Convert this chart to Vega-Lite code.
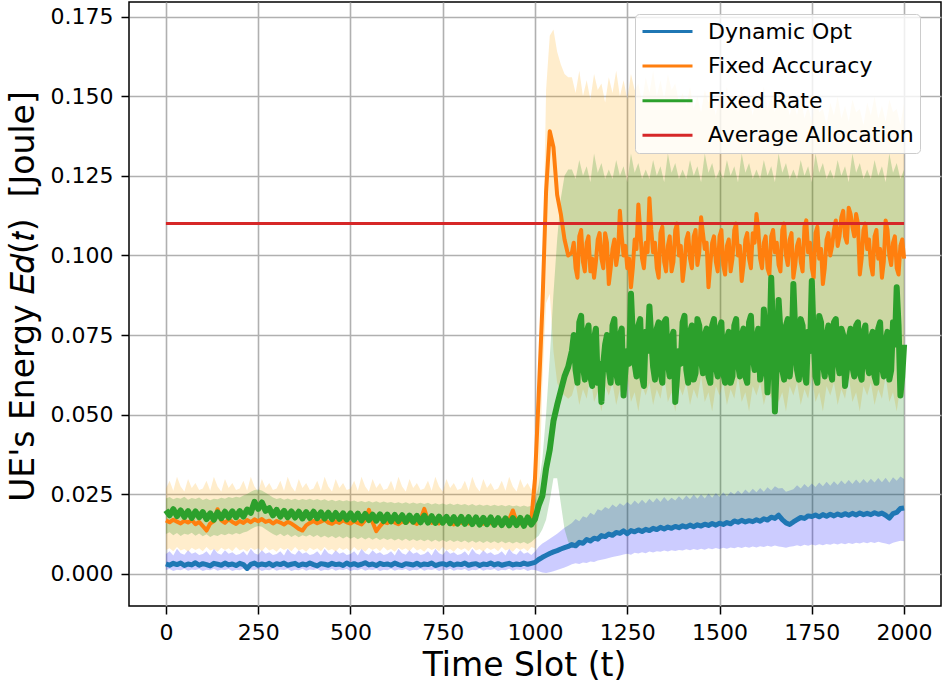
{
"$schema": "https://vega.github.io/schema/vega-lite/v6.json",
"width": 812, "height": 604,
"autosize": {"type": "none"},
"padding": {"left": 129, "top": 2, "right": 3, "bottom": 81},
"background": "white",
"data": {"values": [
{"t":0,"d":0.0031,"dl":0.0012,"dh":0.0062,"a":0.0168,"al":0.0075,"ah":0.0268,"r":0.0200,"rl":0.0125,"rh":0.0237},
{"t":10,"d":0.0027,"dl":0.0015,"dh":0.0071,"a":0.0162,"al":0.0080,"ah":0.0292,"r":0.0184,"rl":0.0131,"rh":0.0241},
{"t":20,"d":0.0033,"dl":0.0009,"dh":0.0058,"a":0.0170,"al":0.0071,"ah":0.0261,"r":0.0203,"rl":0.0121,"rh":0.0234},
{"t":30,"d":0.0029,"dl":0.0013,"dh":0.0079,"a":0.0164,"al":0.0084,"ah":0.0305,"r":0.0181,"rl":0.0128,"rh":0.0239},
{"t":40,"d":0.0034,"dl":0.0011,"dh":0.0065,"a":0.0158,"al":0.0073,"ah":0.0274,"r":0.0199,"rl":0.0119,"rh":0.0236},
{"t":50,"d":0.0026,"dl":0.0016,"dh":0.0060,"a":0.0167,"al":0.0078,"ah":0.0259,"r":0.0179,"rl":0.0126,"rh":0.0242},
{"t":60,"d":0.0031,"dl":0.0010,"dh":0.0074,"a":0.0161,"al":0.0069,"ah":0.0298,"r":0.0197,"rl":0.0123,"rh":0.0233},
{"t":70,"d":0.0028,"dl":0.0014,"dh":0.0063,"a":0.0169,"al":0.0082,"ah":0.0270,"r":0.0176,"rl":0.0129,"rh":0.0238},
{"t":80,"d":0.0035,"dl":0.0012,"dh":0.0068,"a":0.0156,"al":0.0075,"ah":0.0285,"r":0.0196,"rl":0.0120,"rh":0.0235},
{"t":90,"d":0.0027,"dl":0.0015,"dh":0.0059,"a":0.0163,"al":0.0080,"ah":0.0263,"r":0.0178,"rl":0.0127,"rh":0.0240},
{"t":100,"d":0.0032,"dl":0.0009,"dh":0.0062,"a":0.0150,"al":0.0071,"ah":0.0268,"r":0.0194,"rl":0.0118,"rh":0.0232},
{"t":110,"d":0.0029,"dl":0.0013,"dh":0.0071,"a":0.0136,"al":0.0084,"ah":0.0292,"r":0.0172,"rl":0.0124,"rh":0.0237},
{"t":120,"d":0.0025,"dl":0.0011,"dh":0.0058,"a":0.0158,"al":0.0073,"ah":0.0261,"r":0.0190,"rl":0.0116,"rh":0.0231},
{"t":130,"d":0.0033,"dl":0.0016,"dh":0.0079,"a":0.0166,"al":0.0078,"ah":0.0305,"r":0.0170,"rl":0.0122,"rh":0.0236},
{"t":140,"d":0.0030,"dl":0.0010,"dh":0.0065,"a":0.0203,"al":0.0069,"ah":0.0274,"r":0.0193,"rl":0.0119,"rh":0.0234},
{"t":150,"d":0.0027,"dl":0.0014,"dh":0.0060,"a":0.0168,"al":0.0082,"ah":0.0259,"r":0.0175,"rl":0.0125,"rh":0.0239},
{"t":160,"d":0.0034,"dl":0.0012,"dh":0.0074,"a":0.0160,"al":0.0075,"ah":0.0298,"r":0.0195,"rl":0.0121,"rh":0.0236},
{"t":170,"d":0.0028,"dl":0.0015,"dh":0.0063,"a":0.0171,"al":0.0080,"ah":0.0270,"r":0.0177,"rl":0.0127,"rh":0.0241},
{"t":180,"d":0.0031,"dl":0.0009,"dh":0.0068,"a":0.0163,"al":0.0071,"ah":0.0285,"r":0.0196,"rl":0.0123,"rh":0.0238},
{"t":190,"d":0.0026,"dl":0.0013,"dh":0.0059,"a":0.0157,"al":0.0084,"ah":0.0263,"r":0.0178,"rl":0.0128,"rh":0.0242},
{"t":200,"d":0.0033,"dl":0.0011,"dh":0.0062,"a":0.0166,"al":0.0073,"ah":0.0268,"r":0.0197,"rl":0.0124,"rh":0.0240},
{"t":210,"d":0.0029,"dl":0.0016,"dh":0.0071,"a":0.0160,"al":0.0078,"ah":0.0292,"r":0.0180,"rl":0.0130,"rh":0.0246},
{"t":220,"d":0.0017,"dl":0.0008,"dh":0.0058,"a":0.0169,"al":0.0069,"ah":0.0261,"r":0.0202,"rl":0.0133,"rh":0.0251},
{"t":230,"d":0.0030,"dl":0.0014,"dh":0.0079,"a":0.0162,"al":0.0082,"ah":0.0305,"r":0.0192,"rl":0.0140,"rh":0.0258},
{"t":240,"d":0.0034,"dl":0.0012,"dh":0.0065,"a":0.0171,"al":0.0075,"ah":0.0274,"r":0.0226,"rl":0.0146,"rh":0.0263},
{"t":250,"d":0.0027,"dl":0.0015,"dh":0.0060,"a":0.0165,"al":0.0080,"ah":0.0259,"r":0.0204,"rl":0.0150,"rh":0.0265},
{"t":260,"d":0.0031,"dl":0.0009,"dh":0.0074,"a":0.0172,"al":0.0071,"ah":0.0298,"r":0.0224,"rl":0.0148,"rh":0.0262},
{"t":270,"d":0.0028,"dl":0.0013,"dh":0.0063,"a":0.0163,"al":0.0084,"ah":0.0270,"r":0.0198,"rl":0.0140,"rh":0.0255},
{"t":280,"d":0.0033,"dl":0.0011,"dh":0.0068,"a":0.0167,"al":0.0073,"ah":0.0285,"r":0.0206,"rl":0.0132,"rh":0.0248},
{"t":290,"d":0.0026,"dl":0.0016,"dh":0.0059,"a":0.0158,"al":0.0078,"ah":0.0263,"r":0.0184,"rl":0.0125,"rh":0.0240},
{"t":300,"d":0.0032,"dl":0.0010,"dh":0.0062,"a":0.0166,"al":0.0069,"ah":0.0268,"r":0.0201,"rl":0.0120,"rh":0.0235},
{"t":310,"d":0.0029,"dl":0.0014,"dh":0.0071,"a":0.0161,"al":0.0082,"ah":0.0292,"r":0.0180,"rl":0.0126,"rh":0.0238},
{"t":320,"d":0.0034,"dl":0.0012,"dh":0.0058,"a":0.0155,"al":0.0075,"ah":0.0261,"r":0.0198,"rl":0.0118,"rh":0.0233},
{"t":330,"d":0.0027,"dl":0.0015,"dh":0.0079,"a":0.0163,"al":0.0080,"ah":0.0305,"r":0.0178,"rl":0.0124,"rh":0.0237},
{"t":340,"d":0.0030,"dl":0.0009,"dh":0.0065,"a":0.0158,"al":0.0071,"ah":0.0274,"r":0.0196,"rl":0.0116,"rh":0.0232},
{"t":350,"d":0.0033,"dl":0.0013,"dh":0.0060,"a":0.0150,"al":0.0084,"ah":0.0259,"r":0.0177,"rl":0.0122,"rh":0.0236},
{"t":360,"d":0.0026,"dl":0.0011,"dh":0.0074,"a":0.0141,"al":0.0073,"ah":0.0298,"r":0.0195,"rl":0.0115,"rh":0.0231},
{"t":370,"d":0.0031,"dl":0.0016,"dh":0.0063,"a":0.0136,"al":0.0078,"ah":0.0270,"r":0.0174,"rl":0.0121,"rh":0.0235},
{"t":380,"d":0.0028,"dl":0.0010,"dh":0.0068,"a":0.0152,"al":0.0069,"ah":0.0285,"r":0.0194,"rl":0.0117,"rh":0.0232},
{"t":390,"d":0.0034,"dl":0.0014,"dh":0.0059,"a":0.0160,"al":0.0082,"ah":0.0263,"r":0.0176,"rl":0.0123,"rh":0.0236},
{"t":400,"d":0.0029,"dl":0.0012,"dh":0.0062,"a":0.0166,"al":0.0075,"ah":0.0268,"r":0.0195,"rl":0.0116,"rh":0.0231},
{"t":410,"d":0.0025,"dl":0.0015,"dh":0.0071,"a":0.0159,"al":0.0080,"ah":0.0292,"r":0.0175,"rl":0.0122,"rh":0.0235},
{"t":420,"d":0.0032,"dl":0.0009,"dh":0.0058,"a":0.0164,"al":0.0071,"ah":0.0261,"r":0.0193,"rl":0.0114,"rh":0.0230},
{"t":430,"d":0.0030,"dl":0.0013,"dh":0.0079,"a":0.0170,"al":0.0084,"ah":0.0305,"r":0.0174,"rl":0.0120,"rh":0.0234},
{"t":440,"d":0.0027,"dl":0.0011,"dh":0.0065,"a":0.0161,"al":0.0073,"ah":0.0274,"r":0.0192,"rl":0.0113,"rh":0.0229},
{"t":450,"d":0.0033,"dl":0.0016,"dh":0.0060,"a":0.0157,"al":0.0078,"ah":0.0259,"r":0.0172,"rl":0.0119,"rh":0.0233},
{"t":460,"d":0.0029,"dl":0.0010,"dh":0.0074,"a":0.0165,"al":0.0069,"ah":0.0298,"r":0.0191,"rl":0.0112,"rh":0.0228},
{"t":470,"d":0.0031,"dl":0.0014,"dh":0.0063,"a":0.0160,"al":0.0082,"ah":0.0270,"r":0.0173,"rl":0.0118,"rh":0.0232},
{"t":480,"d":0.0026,"dl":0.0012,"dh":0.0068,"a":0.0168,"al":0.0075,"ah":0.0285,"r":0.0190,"rl":0.0111,"rh":0.0228},
{"t":490,"d":0.0034,"dl":0.0015,"dh":0.0059,"a":0.0162,"al":0.0080,"ah":0.0263,"r":0.0171,"rl":0.0117,"rh":0.0231},
{"t":500,"d":0.0028,"dl":0.0009,"dh":0.0062,"a":0.0158,"al":0.0071,"ah":0.0268,"r":0.0190,"rl":0.0110,"rh":0.0227},
{"t":510,"d":0.0032,"dl":0.0013,"dh":0.0071,"a":0.0166,"al":0.0084,"ah":0.0292,"r":0.0170,"rl":0.0116,"rh":0.0230},
{"t":520,"d":0.0027,"dl":0.0011,"dh":0.0058,"a":0.0160,"al":0.0073,"ah":0.0261,"r":0.0189,"rl":0.0109,"rh":0.0226},
{"t":530,"d":0.0030,"dl":0.0016,"dh":0.0079,"a":0.0155,"al":0.0078,"ah":0.0305,"r":0.0168,"rl":0.0115,"rh":0.0229},
{"t":540,"d":0.0035,"dl":0.0010,"dh":0.0065,"a":0.0168,"al":0.0069,"ah":0.0274,"r":0.0188,"rl":0.0108,"rh":0.0225},
{"t":550,"d":0.0028,"dl":0.0014,"dh":0.0060,"a":0.0201,"al":0.0082,"ah":0.0259,"r":0.0169,"rl":0.0114,"rh":0.0229},
{"t":560,"d":0.0031,"dl":0.0012,"dh":0.0074,"a":0.0162,"al":0.0075,"ah":0.0298,"r":0.0186,"rl":0.0107,"rh":0.0224},
{"t":570,"d":0.0026,"dl":0.0015,"dh":0.0063,"a":0.0134,"al":0.0080,"ah":0.0270,"r":0.0167,"rl":0.0113,"rh":0.0228},
{"t":580,"d":0.0033,"dl":0.0009,"dh":0.0068,"a":0.0150,"al":0.0071,"ah":0.0285,"r":0.0187,"rl":0.0106,"rh":0.0223},
{"t":590,"d":0.0029,"dl":0.0013,"dh":0.0059,"a":0.0163,"al":0.0084,"ah":0.0263,"r":0.0166,"rl":0.0112,"rh":0.0227},
{"t":600,"d":0.0031,"dl":0.0011,"dh":0.0062,"a":0.0159,"al":0.0073,"ah":0.0268,"r":0.0186,"rl":0.0106,"rh":0.0223},
{"t":610,"d":0.0027,"dl":0.0016,"dh":0.0071,"a":0.0167,"al":0.0078,"ah":0.0292,"r":0.0165,"rl":0.0111,"rh":0.0226},
{"t":620,"d":0.0034,"dl":0.0010,"dh":0.0058,"a":0.0161,"al":0.0069,"ah":0.0261,"r":0.0185,"rl":0.0105,"rh":0.0222},
{"t":630,"d":0.0029,"dl":0.0014,"dh":0.0079,"a":0.0156,"al":0.0082,"ah":0.0305,"r":0.0166,"rl":0.0110,"rh":0.0225},
{"t":640,"d":0.0026,"dl":0.0012,"dh":0.0065,"a":0.0165,"al":0.0075,"ah":0.0274,"r":0.0184,"rl":0.0104,"rh":0.0221},
{"t":650,"d":0.0032,"dl":0.0015,"dh":0.0060,"a":0.0160,"al":0.0080,"ah":0.0259,"r":0.0163,"rl":0.0110,"rh":0.0225},
{"t":660,"d":0.0030,"dl":0.0009,"dh":0.0074,"a":0.0168,"al":0.0071,"ah":0.0298,"r":0.0183,"rl":0.0103,"rh":0.0220},
{"t":670,"d":0.0028,"dl":0.0013,"dh":0.0063,"a":0.0162,"al":0.0084,"ah":0.0270,"r":0.0164,"rl":0.0109,"rh":0.0224},
{"t":680,"d":0.0033,"dl":0.0011,"dh":0.0068,"a":0.0157,"al":0.0073,"ah":0.0285,"r":0.0182,"rl":0.0103,"rh":0.0220},
{"t":690,"d":0.0027,"dl":0.0016,"dh":0.0059,"a":0.0171,"al":0.0078,"ah":0.0263,"r":0.0162,"rl":0.0108,"rh":0.0223},
{"t":700,"d":0.0031,"dl":0.0010,"dh":0.0062,"a":0.0204,"al":0.0069,"ah":0.0268,"r":0.0183,"rl":0.0102,"rh":0.0219},
{"t":710,"d":0.0029,"dl":0.0014,"dh":0.0071,"a":0.0168,"al":0.0082,"ah":0.0292,"r":0.0161,"rl":0.0108,"rh":0.0223},
{"t":720,"d":0.0034,"dl":0.0012,"dh":0.0058,"a":0.0160,"al":0.0075,"ah":0.0261,"r":0.0181,"rl":0.0101,"rh":0.0218},
{"t":730,"d":0.0026,"dl":0.0015,"dh":0.0079,"a":0.0165,"al":0.0080,"ah":0.0305,"r":0.0160,"rl":0.0107,"rh":0.0222},
{"t":740,"d":0.0030,"dl":0.0009,"dh":0.0065,"a":0.0158,"al":0.0071,"ah":0.0274,"r":0.0180,"rl":0.0101,"rh":0.0218},
{"t":750,"d":0.0032,"dl":0.0013,"dh":0.0060,"a":0.0163,"al":0.0084,"ah":0.0259,"r":0.0161,"rl":0.0106,"rh":0.0221},
{"t":760,"d":0.0028,"dl":0.0011,"dh":0.0074,"a":0.0169,"al":0.0073,"ah":0.0298,"r":0.0179,"rl":0.0100,"rh":0.0217},
{"t":770,"d":0.0033,"dl":0.0016,"dh":0.0063,"a":0.0161,"al":0.0078,"ah":0.0270,"r":0.0159,"rl":0.0106,"rh":0.0221},
{"t":780,"d":0.0027,"dl":0.0010,"dh":0.0068,"a":0.0155,"al":0.0069,"ah":0.0285,"r":0.0178,"rl":0.0100,"rh":0.0216},
{"t":790,"d":0.0031,"dl":0.0014,"dh":0.0059,"a":0.0164,"al":0.0082,"ah":0.0263,"r":0.0158,"rl":0.0105,"rh":0.0220},
{"t":800,"d":0.0029,"dl":0.0012,"dh":0.0062,"a":0.0160,"al":0.0075,"ah":0.0268,"r":0.0179,"rl":0.0099,"rh":0.0216},
{"t":810,"d":0.0034,"dl":0.0015,"dh":0.0071,"a":0.0167,"al":0.0080,"ah":0.0292,"r":0.0157,"rl":0.0105,"rh":0.0219},
{"t":820,"d":0.0027,"dl":0.0009,"dh":0.0058,"a":0.0158,"al":0.0071,"ah":0.0261,"r":0.0178,"rl":0.0098,"rh":0.0215},
{"t":830,"d":0.0030,"dl":0.0013,"dh":0.0079,"a":0.0163,"al":0.0084,"ah":0.0305,"r":0.0156,"rl":0.0104,"rh":0.0219},
{"t":840,"d":0.0032,"dl":0.0011,"dh":0.0065,"a":0.0170,"al":0.0073,"ah":0.0274,"r":0.0177,"rl":0.0098,"rh":0.0214},
{"t":850,"d":0.0026,"dl":0.0016,"dh":0.0060,"a":0.0162,"al":0.0078,"ah":0.0259,"r":0.0155,"rl":0.0103,"rh":0.0218},
{"t":860,"d":0.0031,"dl":0.0010,"dh":0.0074,"a":0.0157,"al":0.0069,"ah":0.0298,"r":0.0176,"rl":0.0097,"rh":0.0214},
{"t":870,"d":0.0029,"dl":0.0014,"dh":0.0063,"a":0.0165,"al":0.0082,"ah":0.0270,"r":0.0156,"rl":0.0103,"rh":0.0217},
{"t":880,"d":0.0034,"dl":0.0012,"dh":0.0068,"a":0.0159,"al":0.0075,"ah":0.0285,"r":0.0177,"rl":0.0097,"rh":0.0213},
{"t":890,"d":0.0028,"dl":0.0015,"dh":0.0059,"a":0.0166,"al":0.0080,"ah":0.0263,"r":0.0154,"rl":0.0102,"rh":0.0217},
{"t":900,"d":0.0032,"dl":0.0009,"dh":0.0062,"a":0.0161,"al":0.0071,"ah":0.0268,"r":0.0175,"rl":0.0096,"rh":0.0213},
{"t":910,"d":0.0027,"dl":0.0013,"dh":0.0071,"a":0.0156,"al":0.0084,"ah":0.0292,"r":0.0153,"rl":0.0102,"rh":0.0216},
{"t":920,"d":0.0030,"dl":0.0011,"dh":0.0058,"a":0.0164,"al":0.0073,"ah":0.0261,"r":0.0174,"rl":0.0096,"rh":0.0212},
{"t":930,"d":0.0033,"dl":0.0016,"dh":0.0079,"a":0.0170,"al":0.0078,"ah":0.0305,"r":0.0152,"rl":0.0101,"rh":0.0216},
{"t":940,"d":0.0028,"dl":0.0010,"dh":0.0065,"a":0.0199,"al":0.0069,"ah":0.0274,"r":0.0175,"rl":0.0095,"rh":0.0212},
{"t":950,"d":0.0031,"dl":0.0014,"dh":0.0060,"a":0.0163,"al":0.0082,"ah":0.0259,"r":0.0153,"rl":0.0101,"rh":0.0215},
{"t":960,"d":0.0029,"dl":0.0012,"dh":0.0074,"a":0.0158,"al":0.0075,"ah":0.0298,"r":0.0176,"rl":0.0095,"rh":0.0211},
{"t":970,"d":0.0034,"dl":0.0015,"dh":0.0063,"a":0.0166,"al":0.0080,"ah":0.0270,"r":0.0151,"rl":0.0100,"rh":0.0215},
{"t":980,"d":0.0030,"dl":0.0009,"dh":0.0068,"a":0.0160,"al":0.0071,"ah":0.0285,"r":0.0177,"rl":0.0094,"rh":0.0211},
{"t":990,"d":0.0033,"dl":0.0013,"dh":0.0059,"a":0.0168,"al":0.0084,"ah":0.0263,"r":0.0155,"rl":0.0100,"rh":0.0214},
{"t":1000,"d":0.0036,"dl":0.0012,"dh":0.0070,"a":0.0300,"al":0.0080,"ah":0.0310,"r":0.0172,"rl":0.0110,"rh":0.0230},
{"t":1010,"d":0.0045,"dl":0.0008,"dh":0.0085,"a":0.0560,"al":0.0200,"ah":0.0570,"r":0.0215,"rl":0.0120,"rh":0.0280},
{"t":1020,"d":0.0052,"dl":0.0004,"dh":0.0095,"a":0.0840,"al":0.0600,"ah":0.0870,"r":0.0245,"rl":0.0140,"rh":0.0360},
{"t":1030,"d":0.0058,"dl":0.0003,"dh":0.0102,"a":0.1200,"al":0.0850,"ah":0.1520,"r":0.0330,"rl":0.0170,"rh":0.0500},
{"t":1040,"d":0.0064,"dl":0.0005,"dh":0.0110,"a":0.1390,"al":0.0880,"ah":0.1690,"r":0.0390,"rl":0.0230,"rh":0.0680},
{"t":1050,"d":0.0069,"dl":0.0008,"dh":0.0118,"a":0.1340,"al":0.0700,"ah":0.1710,"r":0.0480,"rl":0.0300,"rh":0.0880},
{"t":1060,"d":0.0073,"dl":0.0012,"dh":0.0126,"a":0.1190,"al":0.0600,"ah":0.1640,"r":0.0530,"rl":0.0300,"rh":0.1050},
{"t":1070,"d":0.0078,"dl":0.0016,"dh":0.0135,"a":0.1130,"al":0.0570,"ah":0.1600,"r":0.0575,"rl":0.0220,"rh":0.1180},
{"t":1080,"d":0.0082,"dl":0.0020,"dh":0.0145,"a":0.1050,"al":0.0560,"ah":0.1570,"r":0.0620,"rl":0.0140,"rh":0.1250},
{"t":1090,"d":0.0086,"dl":0.0025,"dh":0.0152,"a":0.1000,"al":0.0550,"ah":0.1560,"r":0.0650,"rl":0.0100,"rh":0.1270},
{"t":1100,"d":0.0092,"dl":0.0030,"dh":0.0160,"a":0.1010,"al":0.056,"ah":0.156,"r":0.0700,"rl":0.0090,"rh":0.127},
{"t":1110,"d":0.0088,"dl":0.0033,"dh":0.0172,"a":0.0960,"al":0.060,"ah":0.151,"r":0.0640,"rl":0.0092,"rh":0.124},
{"t":1120,"d":0.0099,"dl":0.0031,"dh":0.0165,"a":0.1060,"al":0.053,"ah":0.158,"r":0.0790,"rl":0.0094,"rh":0.130},
{"t":1130,"d":0.0096,"dl":0.0036,"dh":0.0181,"a":0.0980,"al":0.058,"ah":0.150,"r":0.0650,"rl":0.0097,"rh":0.125},
{"t":1140,"d":0.0108,"dl":0.0034,"dh":0.0176,"a":0.1040,"al":0.055,"ah":0.155,"r":0.0760,"rl":0.0101,"rh":0.128},
{"t":1150,"d":0.0103,"dl":0.0039,"dh":0.0192,"a":0.0950,"al":0.062,"ah":0.149,"r":0.0620,"rl":0.0103,"rh":0.123},
{"t":1160,"d":0.0112,"dl":0.0037,"dh":0.0185,"a":0.0930,"al":0.054,"ah":0.157,"r":0.0740,"rl":0.0106,"rh":0.132},
{"t":1170,"d":0.0109,"dl":0.0042,"dh":0.0203,"a":0.1050,"al":0.057,"ah":0.152,"r":0.0600,"rl":0.0108,"rh":0.126},
{"t":1180,"d":0.0120,"dl":0.0044,"dh":0.0198,"a":0.0990,"al":0.051,"ah":0.154,"r":0.0540,"rl":0.0112,"rh":0.129},
{"t":1190,"d":0.0117,"dl":0.0047,"dh":0.0210,"a":0.1070,"al":0.059,"ah":0.148,"r":0.0720,"rl":0.0114,"rh":0.124},
{"t":1200,"d":0.0125,"dl":0.0050,"dh":0.0204,"a":0.0910,"al":0.056,"ah":0.156,"r":0.0640,"rl":0.0118,"rh":0.127},
{"t":1210,"d":0.0121,"dl":0.0053,"dh":0.0218,"a":0.1020,"al":0.060,"ah":0.151,"r":0.0780,"rl":0.0120,"rh":0.124},
{"t":1220,"d":0.0130,"dl":0.0055,"dh":0.0209,"a":0.0970,"al":0.053,"ah":0.158,"r":0.0630,"rl":0.0123,"rh":0.130},
{"t":1230,"d":0.0127,"dl":0.0058,"dh":0.0222,"a":0.1140,"al":0.058,"ah":0.150,"r":0.0750,"rl":0.0125,"rh":0.125},
{"t":1240,"d":0.0135,"dl":0.0061,"dh":0.0214,"a":0.1000,"al":0.055,"ah":0.155,"r":0.0560,"rl":0.0128,"rh":0.128},
{"t":1250,"d":0.0126,"dl":0.0063,"dh":0.0226,"a":0.0960,"al":0.062,"ah":0.149,"r":0.0700,"rl":0.0126,"rh":0.123},
{"t":1260,"d":0.0136,"dl":0.0060,"dh":0.0216,"a":0.0900,"al":0.054,"ah":0.157,"r":0.0880,"rl":0.0130,"rh":0.132},
{"t":1270,"d":0.0132,"dl":0.0066,"dh":0.0230,"a":0.1050,"al":0.057,"ah":0.152,"r":0.0660,"rl":0.0131,"rh":0.126},
{"t":1280,"d":0.0138,"dl":0.0064,"dh":0.0219,"a":0.1160,"al":0.051,"ah":0.154,"r":0.0780,"rl":0.0133,"rh":0.129},
{"t":1290,"d":0.0133,"dl":0.0068,"dh":0.0233,"a":0.0990,"al":0.059,"ah":0.148,"r":0.0620,"rl":0.0132,"rh":0.124},
{"t":1300,"d":0.0140,"dl":0.0065,"dh":0.0221,"a":0.1040,"al":0.056,"ah":0.156,"r":0.0760,"rl":0.0135,"rh":0.127},
{"t":1310,"d":0.0136,"dl":0.0070,"dh":0.0236,"a":0.1180,"al":0.060,"ah":0.151,"r":0.0840,"rl":0.0135,"rh":0.124},
{"t":1320,"d":0.0143,"dl":0.0067,"dh":0.0224,"a":0.1010,"al":0.053,"ah":0.158,"r":0.0650,"rl":0.0138,"rh":0.130},
{"t":1330,"d":0.0139,"dl":0.0071,"dh":0.0238,"a":0.0960,"al":0.058,"ah":0.150,"r":0.0770,"rl":0.0138,"rh":0.125},
{"t":1340,"d":0.0146,"dl":0.0069,"dh":0.0226,"a":0.1070,"al":0.055,"ah":0.155,"r":0.0630,"rl":0.0141,"rh":0.128},
{"t":1350,"d":0.0141,"dl":0.0073,"dh":0.0241,"a":0.0980,"al":0.062,"ah":0.149,"r":0.0790,"rl":0.0140,"rh":0.123},
{"t":1360,"d":0.0147,"dl":0.0070,"dh":0.0228,"a":0.1030,"al":0.054,"ah":0.157,"r":0.0660,"rl":0.0143,"rh":0.132},
{"t":1370,"d":0.0143,"dl":0.0074,"dh":0.0239,"a":0.0950,"al":0.057,"ah":0.152,"r":0.0740,"rl":0.0142,"rh":0.126},
{"t":1380,"d":0.0149,"dl":0.0072,"dh":0.0230,"a":0.1080,"al":0.051,"ah":0.154,"r":0.0540,"rl":0.0145,"rh":0.129},
{"t":1390,"d":0.0145,"dl":0.0075,"dh":0.0244,"a":0.1000,"al":0.059,"ah":0.148,"r":0.0700,"rl":0.0144,"rh":0.124},
{"t":1400,"d":0.0151,"dl":0.0073,"dh":0.0232,"a":0.0920,"al":0.056,"ah":0.151,"r":0.0790,"rl":0.0147,"rh":0.127},
{"t":1410,"d":0.0147,"dl":0.0077,"dh":0.0246,"a":0.1050,"al":0.060,"ah":0.147,"r":0.0640,"rl":0.0146,"rh":0.124},
{"t":1420,"d":0.0153,"dl":0.0074,"dh":0.0234,"a":0.0990,"al":0.053,"ah":0.153,"r":0.0760,"rl":0.0149,"rh":0.130},
{"t":1430,"d":0.0148,"dl":0.0078,"dh":0.0249,"a":0.1060,"al":0.058,"ah":0.146,"r":0.0610,"rl":0.0147,"rh":0.125},
{"t":1440,"d":0.0154,"dl":0.0075,"dh":0.0236,"a":0.0970,"al":0.055,"ah":0.150,"r":0.0800,"rl":0.0150,"rh":0.128},
{"t":1450,"d":0.0150,"dl":0.0079,"dh":0.0250,"a":0.1120,"al":0.062,"ah":0.145,"r":0.0670,"rl":0.0149,"rh":0.123},
{"t":1460,"d":0.0156,"dl":0.0076,"dh":0.0237,"a":0.1020,"al":0.054,"ah":0.152,"r":0.0750,"rl":0.0152,"rh":0.132},
{"t":1470,"d":0.0152,"dl":0.0080,"dh":0.0252,"a":0.0900,"al":0.057,"ah":0.148,"r":0.0620,"rl":0.0151,"rh":0.126},
{"t":1480,"d":0.0158,"dl":0.0077,"dh":0.0239,"a":0.1040,"al":0.051,"ah":0.149,"r":0.0780,"rl":0.0154,"rh":0.129},
{"t":1490,"d":0.0153,"dl":0.0081,"dh":0.0254,"a":0.0980,"al":0.059,"ah":0.144,"r":0.0650,"rl":0.0152,"rh":0.124},
{"t":1500,"d":0.0159,"dl":0.0078,"dh":0.0241,"a":0.1060,"al":0.056,"ah":0.151,"r":0.0770,"rl":0.0155,"rh":0.127},
{"t":1510,"d":0.0155,"dl":0.0082,"dh":0.0256,"a":0.0970,"al":0.060,"ah":0.147,"r":0.0630,"rl":0.0154,"rh":0.124},
{"t":1520,"d":0.0161,"dl":0.0079,"dh":0.0243,"a":0.1030,"al":0.053,"ah":0.153,"r":0.0740,"rl":0.0157,"rh":0.130},
{"t":1530,"d":0.0157,"dl":0.0083,"dh":0.0258,"a":0.0950,"al":0.058,"ah":0.146,"r":0.0600,"rl":0.0156,"rh":0.125},
{"t":1540,"d":0.0166,"dl":0.0080,"dh":0.0249,"a":0.1080,"al":0.055,"ah":0.150,"r":0.0780,"rl":0.0160,"rh":0.128},
{"t":1550,"d":0.0162,"dl":0.0084,"dh":0.0262,"a":0.1000,"al":0.062,"ah":0.145,"r":0.0660,"rl":0.0160,"rh":0.123},
{"t":1560,"d":0.0168,"dl":0.0081,"dh":0.0251,"a":0.0920,"al":0.054,"ah":0.152,"r":0.0750,"rl":0.0163,"rh":0.132},
{"t":1570,"d":0.0163,"dl":0.0085,"dh":0.0265,"a":0.1050,"al":0.057,"ah":0.148,"r":0.0620,"rl":0.0162,"rh":0.126},
{"t":1580,"d":0.0167,"dl":0.0082,"dh":0.0254,"a":0.0990,"al":0.051,"ah":0.149,"r":0.0790,"rl":0.0164,"rh":0.129},
{"t":1590,"d":0.0164,"dl":0.0086,"dh":0.0267,"a":0.1070,"al":0.059,"ah":0.144,"r":0.0680,"rl":0.0163,"rh":0.124},
{"t":1600,"d":0.0170,"dl":0.0083,"dh":0.0256,"a":0.1130,"al":0.056,"ah":0.151,"r":0.0740,"rl":0.0166,"rh":0.127},
{"t":1610,"d":0.0165,"dl":0.0087,"dh":0.0270,"a":0.0990,"al":0.060,"ah":0.147,"r":0.0610,"rl":0.0165,"rh":0.124},
{"t":1620,"d":0.0173,"dl":0.0084,"dh":0.0258,"a":0.1040,"al":0.053,"ah":0.153,"r":0.0830,"rl":0.0168,"rh":0.130},
{"t":1630,"d":0.0169,"dl":0.0088,"dh":0.0272,"a":0.0960,"al":0.058,"ah":0.146,"r":0.0570,"rl":0.0168,"rh":0.125},
{"t":1640,"d":0.0178,"dl":0.0085,"dh":0.0262,"a":0.1060,"al":0.055,"ah":0.150,"r":0.0930,"rl":0.0172,"rh":0.128},
{"t":1650,"d":0.0174,"dl":0.0089,"dh":0.0275,"a":0.1010,"al":0.062,"ah":0.145,"r":0.0510,"rl":0.0172,"rh":0.123},
{"t":1660,"d":0.0184,"dl":0.0086,"dh":0.0268,"a":0.0970,"al":0.054,"ah":0.152,"r":0.0860,"rl":0.0176,"rh":0.132},
{"t":1670,"d":0.0170,"dl":0.0084,"dh":0.0270,"a":0.1080,"al":0.057,"ah":0.148,"r":0.0640,"rl":0.0168,"rh":0.126},
{"t":1680,"d":0.0160,"dl":0.0082,"dh":0.0258,"a":0.1000,"al":0.051,"ah":0.149,"r":0.0780,"rl":0.0160,"rh":0.129},
{"t":1690,"d":0.0155,"dl":0.0085,"dh":0.0262,"a":0.1050,"al":0.059,"ah":0.144,"r":0.0620,"rl":0.0156,"rh":0.124},
{"t":1700,"d":0.0163,"dl":0.0087,"dh":0.0266,"a":0.0930,"al":0.056,"ah":0.148,"r":0.0910,"rl":0.0160,"rh":0.127},
{"t":1710,"d":0.0170,"dl":0.0090,"dh":0.0278,"a":0.1030,"al":0.060,"ah":0.144,"r":0.0640,"rl":0.0166,"rh":0.124},
{"t":1720,"d":0.0177,"dl":0.0087,"dh":0.0268,"a":0.0980,"al":0.053,"ah":0.150,"r":0.0800,"rl":0.0172,"rh":0.130},
{"t":1730,"d":0.0174,"dl":0.0091,"dh":0.0282,"a":0.1090,"al":0.058,"ah":0.143,"r":0.0630,"rl":0.0173,"rh":0.125},
{"t":1740,"d":0.0182,"dl":0.0088,"dh":0.0271,"a":0.1010,"al":0.055,"ah":0.147,"r":0.0760,"rl":0.0178,"rh":0.128},
{"t":1750,"d":0.0180,"dl":0.0092,"dh":0.0284,"a":0.0960,"al":0.062,"ah":0.142,"r":0.0920,"rl":0.0178,"rh":0.123},
{"t":1760,"d":0.0185,"dl":0.0089,"dh":0.0273,"a":0.1070,"al":0.054,"ah":0.149,"r":0.0620,"rl":0.0181,"rh":0.132},
{"t":1770,"d":0.0179,"dl":0.0093,"dh":0.0287,"a":0.0990,"al":0.057,"ah":0.145,"r":0.0810,"rl":0.0179,"rh":0.126},
{"t":1780,"d":0.0186,"dl":0.0090,"dh":0.0275,"a":0.0910,"al":0.051,"ah":0.146,"r":0.0660,"rl":0.0183,"rh":0.129},
{"t":1790,"d":0.0181,"dl":0.0094,"dh":0.0289,"a":0.1050,"al":0.059,"ah":0.141,"r":0.0750,"rl":0.0181,"rh":0.124},
{"t":1800,"d":0.0187,"dl":0.0091,"dh":0.0277,"a":0.1000,"al":0.056,"ah":0.148,"r":0.0640,"rl":0.0184,"rh":0.127},
{"t":1810,"d":0.0182,"dl":0.0095,"dh":0.0291,"a":0.1080,"al":0.060,"ah":0.144,"r":0.0790,"rl":0.0182,"rh":0.124},
{"t":1820,"d":0.0188,"dl":0.0092,"dh":0.0279,"a":0.1030,"al":0.053,"ah":0.150,"r":0.0670,"rl":0.0185,"rh":0.130},
{"t":1830,"d":0.0183,"dl":0.0096,"dh":0.0293,"a":0.1120,"al":0.058,"ah":0.143,"r":0.0770,"rl":0.0183,"rh":0.125},
{"t":1840,"d":0.0189,"dl":0.0093,"dh":0.0281,"a":0.1060,"al":0.055,"ah":0.147,"r":0.0590,"rl":0.0186,"rh":0.128},
{"t":1850,"d":0.0184,"dl":0.0097,"dh":0.0295,"a":0.1150,"al":0.062,"ah":0.142,"r":0.0740,"rl":0.0184,"rh":0.123},
{"t":1860,"d":0.0190,"dl":0.0094,"dh":0.0282,"a":0.1090,"al":0.054,"ah":0.149,"r":0.0650,"rl":0.0187,"rh":0.132},
{"t":1870,"d":0.0185,"dl":0.0098,"dh":0.0296,"a":0.1130,"al":0.057,"ah":0.145,"r":0.0780,"rl":0.0185,"rh":0.126},
{"t":1880,"d":0.0191,"dl":0.0095,"dh":0.0284,"a":0.0940,"al":0.051,"ah":0.146,"r":0.0630,"rl":0.0188,"rh":0.129},
{"t":1890,"d":0.0186,"dl":0.0099,"dh":0.0298,"a":0.1080,"al":0.059,"ah":0.141,"r":0.0760,"rl":0.0186,"rh":0.124},
{"t":1900,"d":0.0190,"dl":0.0096,"dh":0.0285,"a":0.1020,"al":0.056,"ah":0.148,"r":0.0660,"rl":0.0188,"rh":0.127},
{"t":1910,"d":0.0186,"dl":0.0100,"dh":0.0299,"a":0.0970,"al":0.060,"ah":0.144,"r":0.0740,"rl":0.0186,"rh":0.124},
{"t":1920,"d":0.0192,"dl":0.0097,"dh":0.0287,"a":0.1060,"al":0.053,"ah":0.150,"r":0.0620,"rl":0.0189,"rh":0.130},
{"t":1930,"d":0.0187,"dl":0.0101,"dh":0.0301,"a":0.0990,"al":0.058,"ah":0.143,"r":0.0770,"rl":0.0187,"rh":0.125},
{"t":1940,"d":0.0191,"dl":0.0098,"dh":0.0288,"a":0.0930,"al":0.055,"ah":0.147,"r":0.0650,"rl":0.0189,"rh":0.128},
{"t":1950,"d":0.0184,"dl":0.0095,"dh":0.0302,"a":0.1110,"al":0.062,"ah":0.142,"r":0.0730,"rl":0.0184,"rh":0.123},
{"t":1960,"d":0.0175,"dl":0.0092,"dh":0.0286,"a":0.1000,"al":0.054,"ah":0.149,"r":0.0610,"rl":0.0178,"rh":0.132},
{"t":1970,"d":0.0189,"dl":0.0098,"dh":0.0303,"a":0.1040,"al":0.057,"ah":0.145,"r":0.0790,"rl":0.0187,"rh":0.126},
{"t":1980,"d":0.0193,"dl":0.0101,"dh":0.0292,"a":0.0960,"al":0.051,"ah":0.146,"r":0.0900,"rl":0.0191,"rh":0.129},
{"t":1990,"d":0.0205,"dl":0.0104,"dh":0.0306,"a":0.1030,"al":0.059,"ah":0.141,"r":0.0560,"rl":0.0198,"rh":0.124},
{"t":2000,"d":0.0207,"dl":0.0102,"dh":0.0298,"a":0.0990,"al":0.056,"ah":0.148,"r":0.0720,"rl":0.0200,"rh":0.127},
{"t":1105,"a":0.104,"r":0.075},{"t":1115,"a":0.093,"r":0.060},{"t":1125,"a":0.108,"r":0.081},{"t":1135,"a":0.095,"r":0.061},{"t":1145,"a":0.106,"r":0.078},
{"t":1155,"a":0.099,"r":0.059},{"t":1165,"a":0.098,"r":0.077},{"t":1175,"a":0.107,"r":0.066},{"t":1185,"a":0.096,"r":0.066},{"t":1195,"a":0.104,"r":0.075},
{"t":1205,"a":0.096,"r":0.060},{"t":1215,"a":0.105,"r":0.080},{"t":1225,"a":0.101,"r":0.060},{"t":1235,"a":0.106,"r":0.077},{"t":1245,"a":0.103,"r":0.064},
{"t":1255,"a":0.099,"r":0.066},{"t":1265,"a":0.096,"r":0.075},{"t":1275,"a":0.102,"r":0.062},{"t":1285,"a":0.108,"r":0.080},{"t":1295,"a":0.096,"r":0.059},
{"t":1305,"a":0.101,"r":0.070},{"t":1315,"a":0.108,"r":0.074},{"t":1325,"a":0.104,"r":0.061},{"t":1335,"a":0.093,"r":0.079},{"t":1345,"a":0.109,"r":0.060},
{"t":1355,"a":0.095,"r":0.080},{"t":1365,"a":0.106,"r":0.062},{"t":1375,"a":0.098,"r":0.076},{"t":1385,"a":0.110,"r":0.062},{"t":1395,"a":0.103,"r":0.066},
{"t":1405,"a":0.097,"r":0.081},{"t":1415,"a":0.107,"r":0.060},{"t":1425,"a":0.096,"r":0.078},{"t":1435,"a":0.108,"r":0.063},{"t":1445,"a":0.101,"r":0.078},
{"t":1455,"a":0.107,"r":0.063},{"t":1465,"a":0.104,"r":0.077},{"t":1475,"a":0.097,"r":0.060},{"t":1485,"a":0.106,"r":0.080},{"t":1495,"a":0.095,"r":0.062},
{"t":1505,"a":0.108,"r":0.079},{"t":1515,"a":0.094,"r":0.060},{"t":1525,"a":0.105,"r":0.076},{"t":1535,"a":0.099,"r":0.062},{"t":1545,"a":0.110,"r":0.080},
{"t":1555,"a":0.103,"r":0.062},{"t":1565,"a":0.097,"r":0.077},{"t":1575,"a":0.107,"r":0.060},{"t":1585,"a":0.096,"r":0.081},{"t":1595,"a":0.104,"r":0.064},
{"t":1605,"a":0.108,"r":0.077},{"t":1615,"a":0.096,"r":0.064},{"t":1625,"a":0.106,"r":0.075},{"t":1635,"a":0.094,"r":0.070},{"t":1645,"a":0.108,"r":0.075},
{"t":1655,"a":0.104,"r":0.066},{"t":1665,"a":0.095,"r":0.076},{"t":1675,"a":0.110,"r":0.061},{"t":1685,"a":0.097,"r":0.080},{"t":1695,"a":0.107,"r":0.068},
{"t":1705,"a":0.097,"r":0.076},{"t":1715,"a":0.105,"r":0.061},{"t":1725,"a":0.095,"r":0.078},{"t":1735,"a":0.111,"r":0.060},{"t":1745,"a":0.104,"r":0.070},
{"t":1755,"a":0.093,"r":0.074},{"t":1765,"a":0.109,"r":0.060},{"t":1775,"a":0.102,"r":0.079},{"t":1785,"a":0.096,"r":0.062},{"t":1795,"a":0.107,"r":0.078},
{"t":1805,"a":0.103,"r":0.061},{"t":1815,"a":0.111,"r":0.080},{"t":1825,"a":0.106,"r":0.063},{"t":1835,"a":0.114,"r":0.075},{"t":1845,"a":0.104,"r":0.064},
{"t":1855,"a":0.113,"r":0.077},{"t":1865,"a":0.106,"r":0.062},{"t":1875,"a":0.110,"r":0.079},{"t":1885,"a":0.099,"r":0.061},{"t":1895,"a":0.110,"r":0.078},
{"t":1905,"a":0.105,"r":0.063},{"t":1915,"a":0.094,"r":0.076},{"t":1925,"a":0.108,"r":0.060},{"t":1935,"a":0.102,"r":0.079},{"t":1945,"a":0.098,"r":0.062},
{"t":1955,"a":0.108,"r":0.076},{"t":1965,"a":0.097,"r":0.064},{"t":1975,"a":0.106,"r":0.072},{"t":1985,"a":0.094,"r":0.078},{"t":1995,"a":0.105,"r":0.062}
]},
"encoding": {
  "x": {"field": "t", "type": "quantitative",
    "scale": {"domain": [-100, 2100], "nice": false, "zero": false},
    "axis": {"title": "Time Slot (t)", "values": [0,250,500,750,1000,1250,1500,1750,2000], "format": "d", "labelPadding": 8, "titlePadding": 6, "titleX": 395, "labelFlush": false}}
},
"layer": [
  {"mark": {"type": "area", "color": "#0000ff", "opacity": 0.2, "invalid": "filter"},
   "encoding": {
     "y": {"field": "dl", "type": "quantitative", "title": "UE's Energy 𝐸𝑑(𝑡)\u00a0\u00a0[Joule]",
       "scale": {"domain": [-0.0101, 0.1796], "nice": false, "zero": false},
       "axis": {"values": [0,0.025,0.05,0.075,0.1,0.125,0.15,0.175], "format": ".3f", "labelPadding": 8, "titlePadding": 10, "titleY": 294}},
     "y2": {"field": "dh"}}},
  {"mark": {"type": "area", "color": "#ffa500", "opacity": 0.2, "invalid": "filter"},
   "encoding": {"y": {"field": "al", "type": "quantitative", "title": "UE's Energy 𝐸𝑑(𝑡)\u00a0\u00a0[Joule]"}, "y2": {"field": "ah"}}},
  {"mark": {"type": "area", "color": "#008000", "opacity": 0.2, "invalid": "filter"},
   "encoding": {"y": {"field": "rl", "type": "quantitative", "title": "UE's Energy 𝐸𝑑(𝑡)\u00a0\u00a0[Joule]"}, "y2": {"field": "rh"}}},
  {"mark": {"type": "line", "strokeWidth": 5, "strokeJoin": "round", "invalid": "filter"},
   "encoding": {"y": {"field": "d", "type": "quantitative", "title": "UE's Energy 𝐸𝑑(𝑡)\u00a0\u00a0[Joule]"},
     "color": {"datum": "Dynamic Opt", "type": "nominal", "title": null,
       "scale": {"domain": ["Dynamic Opt", "Fixed Accuracy", "Fixed Rate", "Average Allocation"], "range": ["#1f77b4", "#ff7f0e", "#2ca02c", "#d62728"]},
       "legend": {"orient": "none", "legendX": 506, "legendY": 12, "symbolType": "M -1 0 H 4", "symbolSize": 400, "symbolStrokeWidth": 3, "labelOffset": 44, "padding": 6}}}},
  {"mark": {"type": "line", "strokeWidth": 4, "strokeJoin": "round", "invalid": "filter"},
   "encoding": {"y": {"field": "a", "type": "quantitative", "title": "UE's Energy 𝐸𝑑(𝑡)\u00a0\u00a0[Joule]"},
     "color": {"datum": "Fixed Accuracy", "type": "nominal", "title": null}}},
  {"mark": {"type": "line", "strokeWidth": 6, "strokeJoin": "round", "invalid": "filter"},
   "encoding": {"y": {"field": "r", "type": "quantitative", "title": "UE's Energy 𝐸𝑑(𝑡)\u00a0\u00a0[Joule]"},
     "color": {"datum": "Fixed Rate", "type": "nominal", "title": null}}},
  {"data": {"values": [{"t": 0, "v": 0.11}, {"t": 2000, "v": 0.11}]},
   "mark": {"type": "line", "strokeWidth": 3},
   "encoding": {"y": {"field": "v", "type": "quantitative", "title": "UE's Energy 𝐸𝑑(𝑡)\u00a0\u00a0[Joule]"},
     "color": {"datum": "Average Allocation", "type": "nominal", "title": null}}}
],
"config": {
  "font": "DejaVu Sans",
  "view": {"stroke": "black", "strokeWidth": 1.5},
  "axis": {"labelFont": "DejaVu Sans", "labelFontSize": 22, "labelColor": "black", "titleFont": "DejaVu Sans", "titleFontSize": 33, "titleFontWeight": "normal", "titleColor": "black", "gridColor": "#b0b0b0", "gridWidth": 1.6, "tickColor": "black", "tickSize": 8, "tickWidth": 1.5, "domain": false},
  "legend": {"fillColor": "rgba(255,255,255,0.8)", "strokeColor": "#cccccc", "cornerRadius": 4, "padding": 6, "labelFont": "DejaVu Sans", "labelFontSize": 22, "labelColor": "black", "rowPadding": 11.6, "labelLimit": 0}
}
}
